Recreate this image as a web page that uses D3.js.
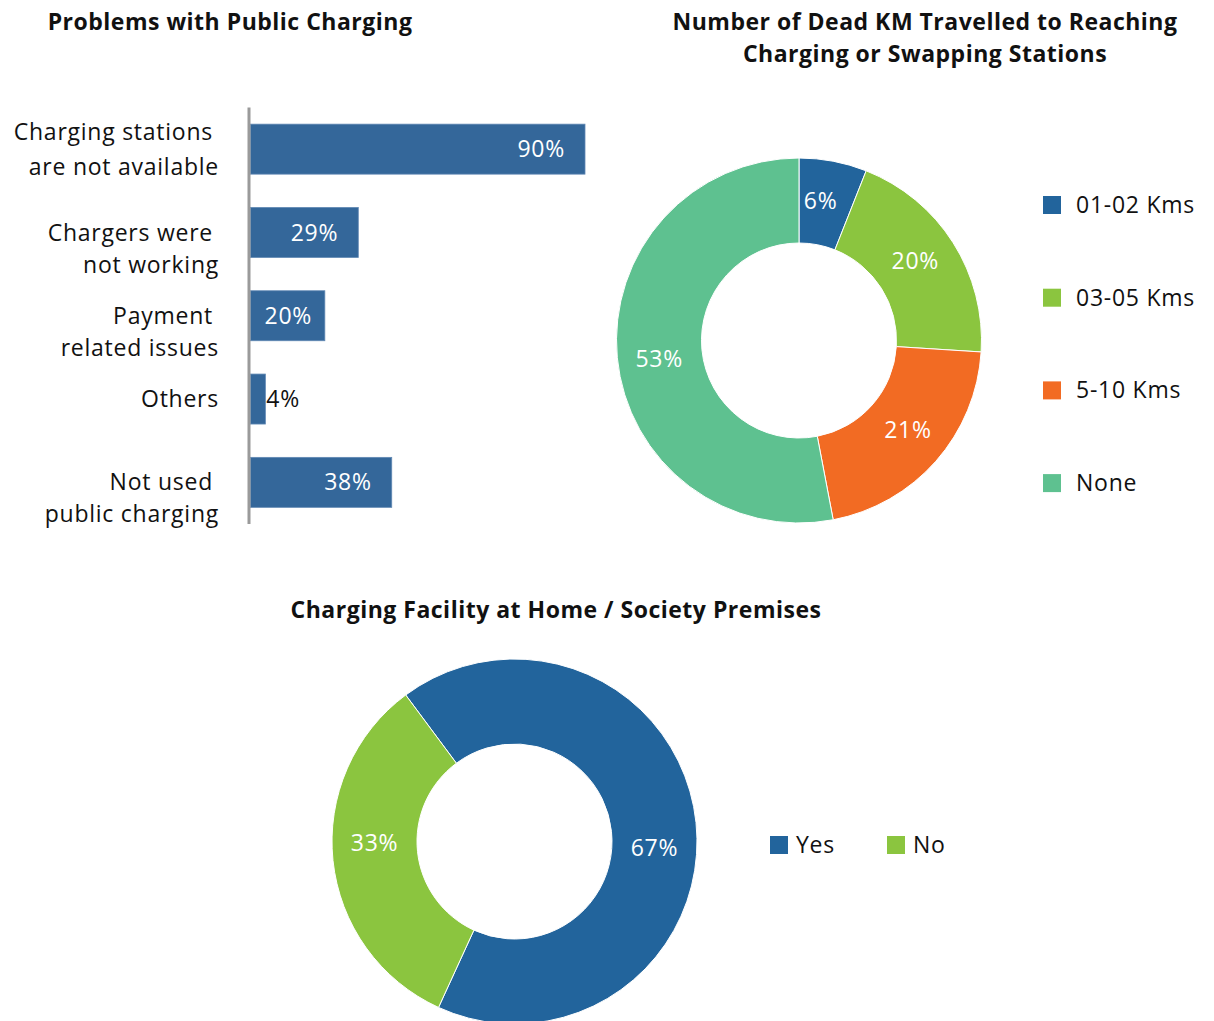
<!DOCTYPE html>
<html><head><meta charset="utf-8">
<script src="https://cdn.jsdelivr.net/npm/d3@7"></script>
<style>
body{margin:0;background:#fff;}
svg{display:block;font-family:"Open Sans","Noto Sans",sans-serif;}
</style></head>
<body><svg id="c" width="1214" height="1021"></svg>
<script>
// ---- data ----
const problemCategories = [
  ["Charging stations", "are not available"],
  ["Chargers were", "not working"],
  ["Payment", "related issues"],
  ["Others"],
  ["Not used", "public charging"]
];
const problemValues = [90, 29, 20, 4, 38];

const deadKmCategories = ["01-02 Kms", "03-05 Kms", "5-10 Kms", "None"];
const deadKmValues = [6, 20, 21, 53];

const homeCategories = ["Yes", "No"];
const homeValues = [67, 33];

const titles = ["Problems with Public Charging",
  ["Number of Dead KM Travelled to Reaching", "Charging or Swapping Stations"],
  "Charging Facility at Home / Society Premises"];

// ---- styles ----
const barColor = "#34679a";
const deadKmColors = ["#22649c", "#8bc53f", "#f26b23", "#5ec190"];
const homeColors = ["#22649c", "#8bc53f"];
const textColor = "#111";
const FS = 23, LS = 0.75;        // regular text size / letter spacing
const TFS = 23, TLS = 0.5;       // title size / letter spacing

const svg = d3.select("#c");

// titles
function title(lines, cx, y0) {
  const t = svg.append("text").attr("text-anchor", "middle").attr("font-weight", 700)
    .attr("font-size", TFS).attr("letter-spacing", TLS).attr("fill", textColor);
  [].concat(lines).forEach((l, i) => t.append("tspan").attr("x", cx).attr("y", y0 + i * 32).text(l));
}
title(titles[0], 230, 30);
title(titles[1], 925, 30);
title(titles[2], 556, 618);

// ---- bar chart ----
const x = d3.scaleLinear().domain([0, 90]).range([250.5, 585]);
const y = d3.scaleBand().domain(d3.range(problemValues.length)).range([107.5, 524])
  .paddingInner(0.4).paddingOuter(0.2);

svg.append("g").selectAll("rect").data(problemValues).join("rect")
  .attr("x", x(0)).attr("y", (d, i) => y(i))
  .attr("width", d => x(d) - x(0)).attr("height", y.bandwidth())
  .attr("fill", barColor).attr("stroke", "#6088b3").attr("stroke-width", 0.8);

// axis line
svg.append("g").attr("transform", `translate(${x(0) - 1.5},0)`)
  .call(d3.axisLeft(y).tickSize(0).tickFormat(""))
  .call(g => g.select(".domain").attr("stroke", "#9a9a9a").attr("stroke-width", 3)
    .attr("d", "M0,107.5V524"));

// category labels
problemCategories.forEach((lines, i) => {
  const cy = y(i) + y.bandwidth() / 2;
  const t = svg.append("text").attr("text-anchor", "end").attr("font-size", FS)
    .attr("letter-spacing", LS).attr("fill", textColor);
  let ys;
  if (lines.length === 1) ys = [cy];
  else if (i === 0) ys = [cy - 17.5, cy + 17.5];
  else ys = [cy, cy + 32];
  lines.forEach((l, k) => t.append("tspan")
    .attr("x", lines.length > 1 && k === 0 ? 213 : 219)
    .attr("y", ys[k]).attr("dy", "0.35em").text(l));
});

// value labels
problemValues.forEach((v, i) => {
  const cy = y(i) + y.bandwidth() / 2;
  const t = svg.append("text").attr("font-size", FS).attr("letter-spacing", LS)
    .attr("dy", "0.35em").attr("y", cy).text(v + "%");
  const w = t.node().getComputedTextLength();
  if (x(v) - x(0) < w + 10) {
    t.attr("x", x(v) + 1).attr("fill", textColor);
  } else {
    const xe = Math.max(x(v) - 20, x(0) + 14 + w);
    t.attr("x", xe).attr("text-anchor", "end").attr("fill", "#fff");
  }
});

// ---- donuts ----
function donut(values, colors, cx, cy, rOut, rIn, start, labelR, labelShift, labelDy) {
  const pie = d3.pie().sort(null).startAngle(start).endAngle(start + 2 * Math.PI);
  const arcs = pie(values);
  const arc = d3.arc().innerRadius(rIn).outerRadius(rOut);
  const g = svg.append("g").attr("transform", `translate(${cx},${cy})`);
  g.selectAll("path").data(arcs).join("path").attr("d", arc)
    .attr("fill", (d, i) => colors[i]).attr("stroke", "#fff").attr("stroke-width", 1);
  const lbl = d3.arc().innerRadius(labelR).outerRadius(labelR);
  g.selectAll("text").data(arcs).join("text")
    .attr("transform", d => {
      const [px, py] = lbl.centroid({ startAngle: d.startAngle + labelShift, endAngle: d.endAngle + labelShift });
      return `translate(${px},${py + labelDy})`;
    })
    .attr("text-anchor", "middle").attr("dy", "0.35em")
    .attr("font-size", FS).attr("letter-spacing", LS).attr("fill", "#fff")
    .text(d => d.data + "%");
  return g;
}

donut(deadKmValues, deadKmColors, 799, 340.5, 182.5, 97.5, 0, 141, -2 * Math.PI / 180, 0);
donut(homeValues, homeColors, 514.5, 841.5, 182.5, 97.5, -36.6 * Math.PI / 180, 140, 7 * Math.PI / 180, 4);

// legend 1
deadKmCategories.forEach((c, i) => {
  const ly = 205 + i * 92.7;
  svg.append("rect").attr("x", 1043).attr("y", ly - 9).attr("width", 18).attr("height", 18)
    .attr("fill", deadKmColors[i]);
  svg.append("text").attr("x", 1076).attr("y", ly).attr("dy", "0.35em")
    .attr("font-size", FS).attr("letter-spacing", LS).attr("fill", textColor).text(c);
});

// legend 2
const leg2X = [770, 887];
homeCategories.forEach((c, i) => {
  svg.append("rect").attr("x", leg2X[i]).attr("y", 836).attr("width", 18).attr("height", 18)
    .attr("fill", homeColors[i]);
  svg.append("text").attr("x", leg2X[i] + 26).attr("y", 845).attr("dy", "0.35em")
    .attr("font-size", FS).attr("letter-spacing", LS).attr("fill", textColor).text(c);
});
</script></body></html>
